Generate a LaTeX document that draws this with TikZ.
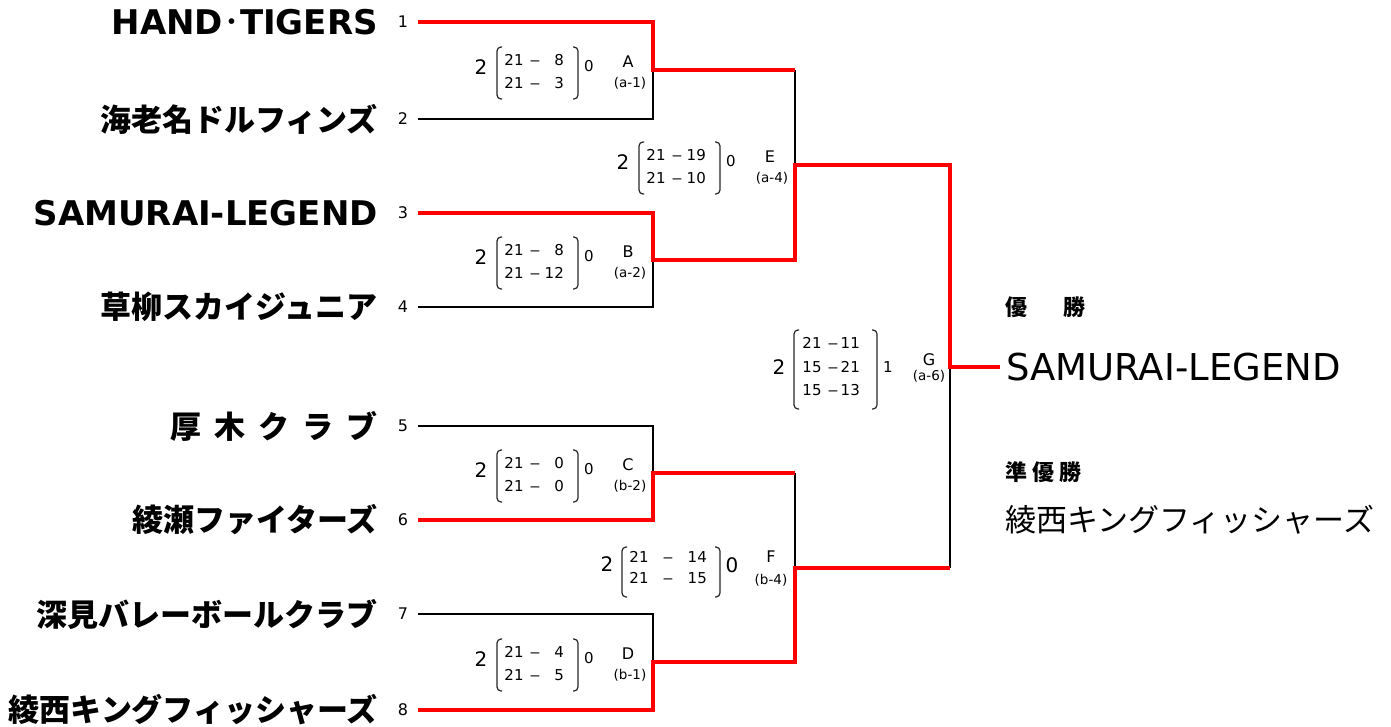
\documentclass[tikz,border=0pt]{standalone}
\usepackage{graphicx}
\usepackage{fontspec}
\setmainfont{DejaVu Sans}
\newfontfamily\cjk{Noto Sans CJK JP}
\newcommand\sdash{\scalebox{1.45}[1]{–}}
\begin{document}
\begin{tikzpicture}[x=1pt,y=-1pt,
  team/.style={anchor=east,inner sep=0pt,font=\cjk\fontsize{31}{31}\selectfont\bfseries},
  teamL/.style={anchor=east,inner sep=0pt,font=\fontsize{34}{34}\selectfont\bfseries},
  seed/.style={inner sep=0pt,font=\fontsize{16}{16}\selectfont},
  winline/.style={red,line width=4pt,line join=miter},
  loseline/.style={black,line width=2pt,line join=miter},
  brk/.style={black!85,line width=1.2pt,rounded corners=4pt},
  big/.style={inner sep=0pt,font=\fontsize{20}{20}\selectfont},
  sc/.style={inner sep=0pt,text height=10.5pt,text depth=0pt,font=\fontsize{15}{15}\selectfont},
  lab/.style={inner sep=0pt,font=\fontsize{16}{16}\selectfont},
  sublab/.style={inner sep=0pt,font=\fontsize{13.5}{13.5}\selectfont},
  head/.style={anchor=west,inner sep=0pt,font=\cjk\fontsize{22}{22}\selectfont\bfseries},
  final/.style={anchor=west,inner sep=0pt,font=\cjk\fontsize{31}{31}\selectfont},
]
\useasboundingbox (0,0) rectangle (1391,726);

% team names and seeds
\node[teamL] (n1) at (378,22) {HAND{\cjk\mdseries ･}TIGERS};
\node[team]  (n2) at (378,119) {海老名ドルフィンズ};
\node[teamL] (n3) at (378,213) {SAMURAI-LEGEND};
\node[team]  (n4) at (378,307) {草柳スカイジュニア};
\node[team]  (n5) at (378,426) {厚\hspace{13pt}木\hspace{13pt}ク\hspace{13pt}ラ\hspace{13pt}ブ};
\node[team]  (n6) at (378,520) {綾瀬ファイターズ};
\node[team]  (n7) at (378,614) {深見バレーボールクラブ};
\node[team]  (n8) at (378,710) {綾西キングフィッシャーズ};
\foreach \i/\y in {1/22,2/119,3/213,4/307,5/426,6/520,7/614,8/710}{
  \node[seed] (k\i) at (403,\y) {\i};
  \coordinate (s\i) at (418,\y);
}

% joints
\coordinate (a1) at (653,22);  \coordinate (a2) at (653,119); \coordinate (am) at (653,70);
\coordinate (b1) at (653,213); \coordinate (b2) at (653,307); \coordinate (bm) at (653,260);
\coordinate (c1) at (653,426); \coordinate (c2) at (653,520); \coordinate (cm) at (653,473);
\coordinate (d1) at (653,614); \coordinate (d2) at (653,710); \coordinate (dm) at (653,662);
\coordinate (e1) at (795,70);  \coordinate (e2) at (795,260); \coordinate (em) at (795,165);
\coordinate (f1) at (795,473); \coordinate (f2) at (795,662); \coordinate (fm) at (795,568);
\coordinate (g1) at (950,165); \coordinate (g2) at (950,568); \coordinate (gm) at (950,367);
\coordinate (w)  at (1000,367);

% losing lines
\draw[loseline] (s2) -- (a2) -- (am);
\draw[loseline] (s4) -- (b2) -- (bm);
\draw[loseline] (s5) -- (c1) -- (cm);
\draw[loseline] (s7) -- (d1) -- (dm);
\draw[loseline] (e1) -- (em);
\draw[loseline] (f1) -- (fm);
\draw[loseline] (g2) -- (gm);
% winning lines
\draw[winline] (s1) -- (a1) -- (am) -- (e1);
\draw[winline] (s3) -- (b1) -- (bm) -- (e2) -- (em) -- (g1) -- (gm) -- (w);
\draw[winline] (s6) -- (c2) -- (cm) -- (f1);
\draw[winline] (s8) -- (d2) -- (dm) -- (f2) -- (fm) -- (g2);

% two-set score block
\newcommand\mscore[9]{%
\begin{scope}[shift={#2}]
  \node[big] (#1w) at (-172,-3) {2};
  \draw[brk] (-151,-23) -- (-156,-23) -- (-156,29) -- (-151,29);
  \draw[brk] (-80,-23) -- (-75,-23) -- (-75,29) -- (-80,29);
  \node[sc] (#1p) at (-139,-10) {#3};
  \node[sc] (#1d) at (-118,-10) {\sdash};
  \node[sc,anchor=east] (#1q) at (-89,-10) {#4};
  \node[sc] (#1r) at (-139,13) {#5};
  \node[sc] (#1e) at (-118,13) {\sdash};
  \node[sc,anchor=east] (#1s) at (-89,13) {#6};
  \node[sc] (#1l) at (-64,-4) {#9};
  \node[lab] (#1n) at (-25,-8) {#7};
  \node[sublab] (#1m) at (-23,13) {#8};
\end{scope}}

\mscore{A}{(653,70)}{21}{8}{21}{3}{A}{(a-1)}{0}
\mscore{B}{(653,260)}{21}{8}{21}{12}{B}{(a-2)}{0}
\mscore{C}{(653,473)}{21}{0}{21}{0}{C}{(b-2)}{0}
\mscore{D}{(653,662)}{21}{4}{21}{5}{D}{(b-1)}{0}
\mscore{E}{(795,165)}{21}{19}{21}{10}{E}{(a-4)}{0}

% F block (wider)
\begin{scope}[shift={(795,568)}]
  \node[big] (Fw) at (-188,-4) {2};
  \draw[brk] (-168,-21) -- (-173,-21) -- (-173,29) -- (-168,29);
  \draw[brk] (-80,-21) -- (-75,-21) -- (-75,29) -- (-80,29);
  \node[sc] (Fp) at (-156,-11) {21};
  \node[sc] (Fd) at (-127,-11) {\sdash};
  \node[sc,anchor=east] (Fq) at (-88,-11) {14};
  \node[sc] (Fr) at (-156,10) {21};
  \node[sc] (Fe) at (-127,10) {\sdash};
  \node[sc,anchor=east] (Fs) at (-88,10) {15};
  \node[big] (Fl) at (-63,-3) {0};
  \node[lab] (Fn) at (-24,-11) {F};
  \node[sublab] (Fm) at (-24,12) {(b-4)};
\end{scope}

% G block (three sets)
\begin{scope}[shift={(950,367)}]
  \node[big] (Gw) at (-171,0) {2};
  \draw[brk] (-151,-37) -- (-156,-37) -- (-156,42) -- (-151,42);
  \draw[brk] (-78,-37) -- (-73,-37) -- (-73,42) -- (-78,42);
  \node[sc] (Gp1) at (-138,-24) {21};
  \node[sc] (Gd1) at (-117,-24) {\sdash};
  \node[sc,anchor=east] (Gq1) at (-90,-24) {11};
  \node[sc] (Gp2) at (-138,0) {15};
  \node[sc] (Gd2) at (-117,0) {\sdash};
  \node[sc,anchor=east] (Gq2) at (-90,0) {21};
  \node[sc] (Gp3) at (-138,23) {15};
  \node[sc] (Gd3) at (-117,23) {\sdash};
  \node[sc,anchor=east] (Gq3) at (-90,23) {13};
  \node[sc] (Gl) at (-62,0) {1};
  \node[lab] (Gn) at (-21,-7) {G};
  \node[sublab] (Gm) at (-21,9) {(a-6)};
\end{scope}

% results
\node[head] (h1) at (1005,307) {優\hspace{36pt}勝};
\node[anchor=west,inner sep=0pt,font=\fontsize{37}{37}\selectfont] (win) at (1006,367) {SAMURAI-LEGEND};
\node[head] (h2) at (1005,472) {準\hspace{5pt}優\hspace{5pt}勝};
\node[final] (run) at (1005,520) {綾西キングフィッシャーズ};
\end{tikzpicture}
\end{document}
